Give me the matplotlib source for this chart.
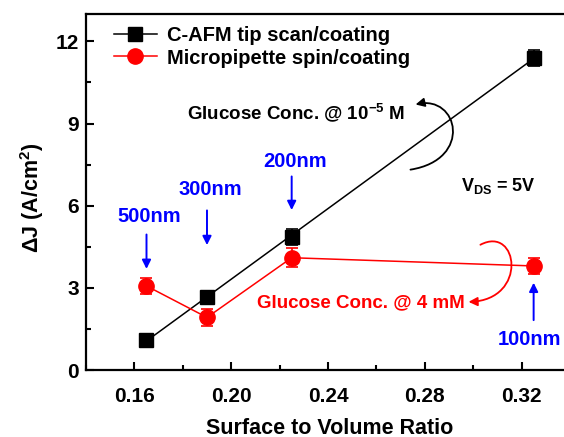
import numpy as np
import matplotlib.pyplot as plt
from matplotlib.lines import Line2D
from matplotlib.patches import FancyArrowPatch
from matplotlib.path import Path
from matplotlib.ticker import MultipleLocator

plt.rcParams['font.family'] = ['Liberation Sans', 'DejaVu Sans']
plt.rcParams['font.weight'] = 'bold'
plt.rcParams['mathtext.fontset'] = 'custom'
plt.rcParams['mathtext.rm'] = 'Liberation Sans:bold'
plt.rcParams['mathtext.bf'] = 'Liberation Sans:bold'
plt.rcParams['mathtext.it'] = 'Liberation Sans:bold'
plt.rcParams['mathtext.default'] = 'bf'

# surface-to-volume ratio of the wires
ratio = np.array([0.165, 0.19, 0.225, 0.325])

# C-AFM tip scan/coating
dj_afm = np.array([1.10, 2.68, 4.85, 11.40])
err_afm = np.array([0.15, 0.15, 0.3, 0.3])

# micropipette spin/coating
dj_pip = np.array([3.07, 1.92, 4.10, 3.80])
err_pip = np.array([0.3, 0.3, 0.35, 0.3])

# wire diameter for each ratio
sizes = ["500nm", "300nm", "200nm", "100nm"]

fig = plt.figure(figsize=(5.64, 4.37), dpi=100)
ax = fig.add_axes([0.1525, 0.1533, 0.858, 0.8146])

# straight fit through the tip-scan points
p = np.polyfit(ratio, dj_afm, 1)
xfit = np.array([ratio[0], ratio[-1]])
ax.plot(xfit, np.polyval(p, xfit), color="black", linewidth=1.1, zorder=2)
ax.errorbar(ratio, dj_afm, yerr=err_afm, fmt="s", color="black", markersize=9.5,
            capsize=4.5, elinewidth=1.2, capthick=1.2, zorder=3)

ax.errorbar(ratio, dj_pip, yerr=err_pip, fmt="o-", color="red", markersize=11,
            capsize=4.5, elinewidth=1.2, capthick=1.2, linewidth=1.1, zorder=4)

handles = [Line2D([], [], color="black", marker="s", markersize=9.5, linewidth=1.1),
           Line2D([], [], color="red", marker="o", markersize=11, linewidth=1.1)]
ax.legend(handles, ["C-AFM tip scan/coating", "Micropipette spin/coating"],
          loc="upper left", bbox_to_anchor=(0.057, 0.965), frameon=False,
          fontsize=14.5, handlelength=2.15, handletextpad=0.5, labelspacing=0.15,
          borderaxespad=0, borderpad=0)

ax.set_xlim(0.14, 0.34)
ax.set_ylim(0, 13)
ax.set_xticks([0.16, 0.20, 0.24, 0.28, 0.32])
ax.set_xticklabels(["0.16", "0.20", "0.24", "0.28", "0.32"])
ax.xaxis.set_minor_locator(MultipleLocator(0.02))
ax.yaxis.set_major_locator(MultipleLocator(3))
ax.yaxis.set_minor_locator(MultipleLocator(1.5))
ax.tick_params(which="both", direction="in", width=1.5, labelsize=15, top=False, right=False)
ax.tick_params(which="major", length=6)
ax.tick_params(axis="x", which="major", pad=12)
ax.tick_params(axis="y", which="major", pad=5)
ax.tick_params(which="minor", length=3.5)
for s in ax.spines.values():
    s.set_linewidth(1.6)
ax.spines["right"].set_visible(False)

ax.set_xlabel("Surface to Volume Ratio", fontsize=15.5, fontweight="bold", va="center")
ax.xaxis.set_label_coords(0.503, -0.163)
ax.set_ylabel("ΔJ (A/cm$^{2}$)", fontsize=15.5, fontweight="bold", va="center")
ax.yaxis.set_label_coords(-0.112, 0.485)

# wire size labels with arrows
label_y = [5.60, 6.59, 7.61]
arrow_y = [(5.05, 3.59), (5.93, 4.46), (7.17, 5.74)]
for x, name, ty, (y0, y1) in zip(ratio[:3], sizes[:3], label_y, arrow_y):
    ax.text(x + 0.0013, ty, name, color="blue", fontsize=14.5, fontweight="bold",
            ha="center", va="center")
    ax.annotate("", xy=(x, y1), xytext=(x, y0),
                arrowprops=dict(arrowstyle="-|>", color="blue", lw=1.4, mutation_scale=13))
ax.text(0.3102, 1.10, sizes[3], color="blue", fontsize=14.5, fontweight="bold",
        ha="left", va="center", clip_on=False)
ax.annotate("", xy=(ratio[3], 3.29), xytext=(ratio[3], 1.72),
            arrowprops=dict(arrowstyle="-|>", color="blue", lw=1.4, mutation_scale=13))

ax.text(0.2266, 9.40, "Glucose Conc. @ 10$^{-5}$ M", color="black", fontsize=13.5,
        fontweight="bold", ha="center", va="center")
curl_black = Path([(0.2741, 7.317), (0.3001, 7.684), (0.2939, 10.062), (0.2762, 9.696)],
                  [Path.MOVETO, Path.CURVE4, Path.CURVE4, Path.CURVE4])
ax.add_patch(FancyArrowPatch(path=curl_black, arrowstyle="-|>", color="black",
                             lw=1.3, mutation_scale=13))

ax.text(0.2535, 2.45, "Glucose Conc. @ 4 mM", color="red", fontsize=13.5,
        fontweight="bold", ha="center", va="center")
curl_red = Path([(0.3030, 4.574), (0.3187, 5.306), (0.3229, 2.561), (0.2981, 2.488)],
                [Path.MOVETO, Path.CURVE4, Path.CURVE4, Path.CURVE4])
ax.add_patch(FancyArrowPatch(path=curl_red, arrowstyle="-|>", color="red",
                             lw=1.3, mutation_scale=13))

ax.text(0.3105, 6.71, "V$_{DS}$ = 5V", color="black", fontsize=13,
        fontweight="bold", ha="center", va="center")

fig.savefig("out.png", dpi=100)
